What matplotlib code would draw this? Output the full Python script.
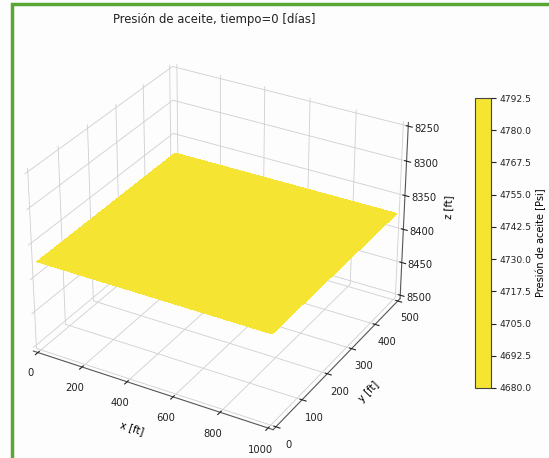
import numpy as np
import matplotlib
matplotlib.use("Agg")
import matplotlib.pyplot as plt
from matplotlib.colors import ListedColormap, Normalize
from matplotlib.cm import ScalarMappable
from matplotlib.patches import Rectangle

plt.rcParams["axes3d.automargin"] = True
plt.rcParams["grid.color"] = "#cfcfcf"
plt.rcParams["grid.linewidth"] = 0.6
plt.rcParams["text.color"] = "#222222"
plt.rcParams["xtick.color"] = "#222222"
plt.rcParams["ytick.color"] = "#222222"

# Reservoir grid (cell edges, ft) and layer depth
x_ft = [0.0, 500.0, 1000.0]
y_ft = [0.0, 250.0, 500.0]
depth_ft = 8375.0

# Oil pressure at t = 0 days (psi), uniform over the grid
pressure_psi = [[4792.5, 4792.5],
                [4792.5, 4792.5]]
p_min, p_max = 4680.0, 4792.5
cbar_ticks = [4680.0, 4692.5, 4705.0, 4717.5, 4730.0, 4742.5,
              4755.0, 4767.5, 4780.0, 4792.5]
z_ticks = [8250, 8300, 8350, 8400, 8450, 8500]

yellow = "#f5e532"
cmap = ListedColormap([yellow])
norm = Normalize(vmin=p_min, vmax=p_max)

fig = plt.figure(figsize=(5.49, 4.58), dpi=100)
fig.patch.set_facecolor("#fdfdfd")

ax = fig.add_axes([-0.009, 0.02, 0.80, 0.90], projection="3d")
ax.set_facecolor("#fdfdfd")
ax.set_box_aspect(None, zoom=1.035)
X, Y = np.meshgrid(x_ft, y_ft)
Z = np.full_like(X, depth_ft)
P = np.array(pressure_psi)
face = cmap(norm(P))
ax.plot_surface(X, Y, Z, facecolors=face, shade=False, linewidth=0,
                antialiased=False)

ax.set_xlim(0, 1000)
ax.set_ylim(0, 500)
ax.set_zlim(8500, 8250)
ax.set_zticks(z_ticks)
ax.set_xlabel("x [ft]", fontsize=7.2, labelpad=-2)
ax.set_ylabel("y [ft]", fontsize=7.2, labelpad=-2)
ax.set_zlabel("z [ft]", fontsize=7.2, labelpad=-2)
ax.tick_params(labelsize=7.2, pad=0)
for a in (ax.xaxis, ax.yaxis, ax.zaxis):
    a.set_pane_color((1.0, 1.0, 1.0, 0.0))
    a.line.set_color("#555555")
    a.line.set_linewidth(0.8)
ax.set_title("Presión de aceite, tiempo=0 [días]", fontsize=8.4, y=1.10)

cax = fig.add_axes([0.866, 0.153, 0.028, 0.633])
sm = ScalarMappable(norm=norm, cmap=cmap)
cb = fig.colorbar(sm, cax=cax, ticks=cbar_ticks)
cb.ax.tick_params(labelsize=6.6, pad=2.5)
cb.ax.set_yticklabels([f"{t:.1f}" for t in cbar_ticks])
cb.set_label("Presión de aceite [Psi]", fontsize=7, labelpad=3)
cb.outline.set_edgecolor("#444444")

# Green frame around the figure
fig.patches.append(Rectangle((11.5 / 549, -0.1), 1.2, 1 - 3.5 / 458 + 0.1,
                             transform=fig.transFigure, fill=False,
                             edgecolor="#5aa632", linewidth=2.5, zorder=10))

fig.savefig("out.png", dpi=100, facecolor=fig.get_facecolor())
